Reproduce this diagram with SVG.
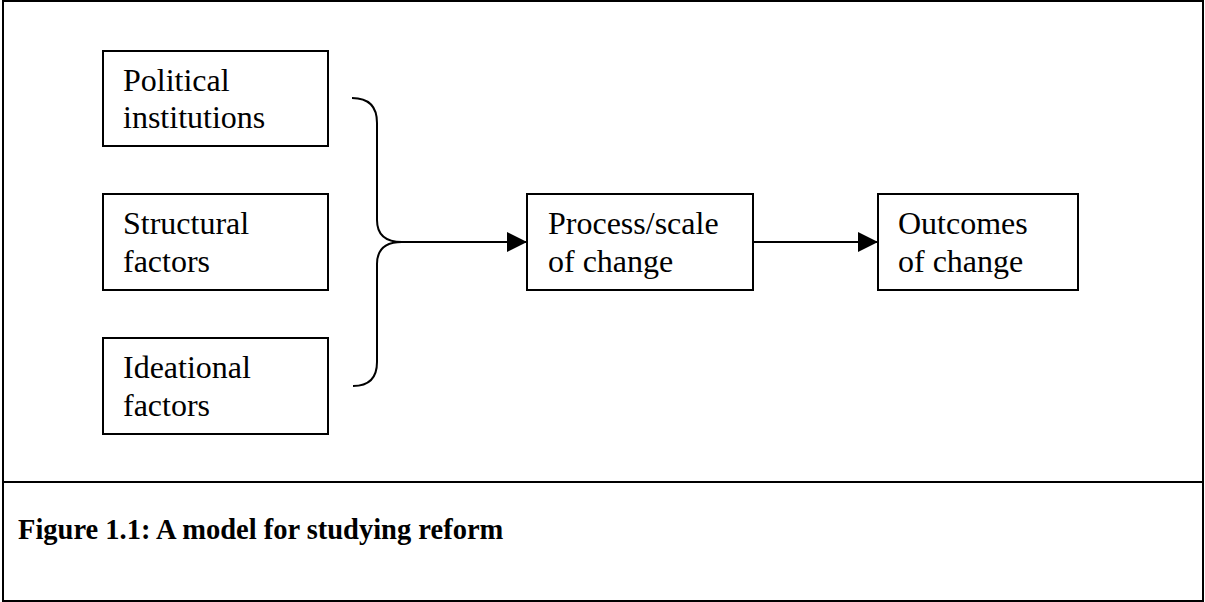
<svg xmlns="http://www.w3.org/2000/svg" width="1205" height="602" viewBox="0 0 1205 602">
<style>
.box{fill:#fff;stroke:#000;stroke-width:2}
.t{font-family:"Liberation Serif","Times New Roman",serif;font-size:32px;fill:#000}
.cap{font-family:"Liberation Serif","Times New Roman",serif;font-size:28.5px;font-weight:bold;fill:#000}
.ln{fill:none;stroke:#000;stroke-width:2}
</style>
<defs>
<marker id="ah" viewBox="0 0 20 20" refX="20" refY="10" markerWidth="20" markerHeight="20" markerUnits="userSpaceOnUse" orient="auto">
<path d="M0,0 L20,10 L0,20 Z" fill="#000"/>
</marker>
</defs>
<rect x="0" y="0" width="1205" height="602" fill="#fff"/>
<g id="frame">
<rect x="3" y="1" width="1200" height="600" class="ln"/>
<line x1="3" y1="482" x2="1203" y2="482" class="ln"/>
</g>
<g id="political">
<rect x="103" y="51" width="225" height="95" class="box"/>
<text class="t" x="123" y="91">Political</text>
<text class="t" x="123" y="128">institutions</text>
</g>
<g id="structural">
<rect x="103" y="194" width="225" height="96" class="box"/>
<text class="t" x="123" y="234">Structural</text>
<text class="t" x="123" y="272">factors</text>
</g>
<g id="ideational">
<rect x="103" y="338" width="225" height="96" class="box"/>
<text class="t" x="123" y="378">Ideational</text>
<text class="t" x="123" y="416">factors</text>
</g>
<g id="process">
<rect x="527" y="194" width="226" height="96" class="box"/>
<text class="t" x="548" y="234">Process/scale</text>
<text class="t" x="548" y="272">of change</text>
</g>
<g id="outcomes">
<rect x="878" y="194" width="200" height="96" class="box"/>
<text class="t" x="898" y="234">Outcomes</text>
<text class="t" x="898" y="272">of change</text>
</g>
<g id="connectors">
<path class="ln" d="M352,98 Q377,98 377,123 L377,220 Q377,242 402,242 Q377,242 377,264 L377,362 Q377,386 353,386"/>
<line x1="402" y1="242" x2="527" y2="242" class="ln" marker-end="url(#ah)"/>
<line x1="753" y1="242" x2="878" y2="242" class="ln" marker-end="url(#ah)"/>
</g>
<g id="caption">
<text class="cap" x="18" y="539">Figure 1.1: A model for studying reform</text>
</g>
</svg>
